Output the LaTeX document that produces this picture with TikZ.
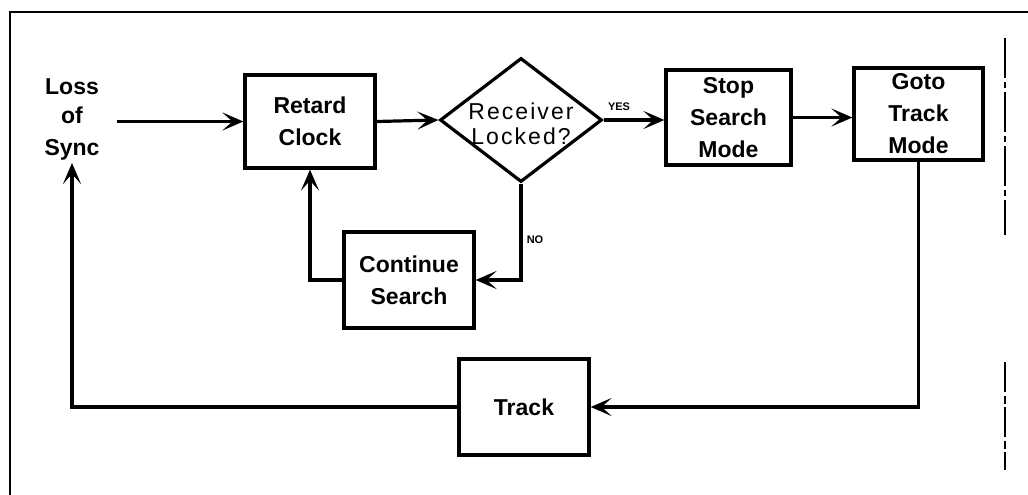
\documentclass[tikz,border=0pt]{standalone}
\usepackage{fontspec}
\setmainfont{Liberation Sans}
\usetikzlibrary{arrows.meta,shapes.geometric}

\tikzset{
  every node/.style={font=\bfseries\fontsize{23}{32}\selectfont, align=center},
  stepbox/.style={draw, line width=3.2pt, inner sep=0pt, minimum width=#1},
  stepbox/.default=130pt,
  decision/.style={draw, diamond, line width=3.2pt, inner sep=0pt,
                   minimum width=162pt, minimum height=124pt},
  flow/.style={line width=3.2pt, -{Stealth[length=21pt,width=18pt,inset=10pt]}},
  tag/.style={font=\bfseries\fontsize{11}{12}\selectfont, inner sep=0pt},
}

\begin{document}
\begin{tikzpicture}[x=1pt,y=-1pt]
  \useasboundingbox (0,0) rectangle (1028,495);

  % outer frame and margin rule
  \draw[line width=2.8pt] (1028,12) -- (10,12) -- (10,495);
  \draw[line width=1.8pt, dash pattern=on 40pt off 4pt on 6pt off 4pt]
    (1005,38) -- (1005,235);
  \draw[line width=1.8pt, dash pattern=on 30pt off 4pt on 8pt off 3pt]
    (1005,362) -- (1005,470);

  % blocks
  \node[inner sep=3pt] (loss) at (72,119) {Loss\\[-3pt]of\\Sync};
  \node[stepbox, minimum height=93pt] (retard) at (310,121.5) {Retard\\Clock};
  \node[decision] (lock) at (521,120) {};
  \node[font=\fontsize{23}{25}\selectfont\addfontfeature{LetterSpace=9}]
    (locktext) at (521,124) {Receiver\\Locked?};
  \node[stepbox=125pt, minimum height=95pt] (stop) at (728.5,117.5)
    {Stop\\Search\\Mode};
  \node[stepbox=129pt, minimum height=92pt] (goto) at (918.5,114)
    {Goto\\Track\\Mode};
  \node[stepbox, minimum height=96pt] (cont) at (409,280) {Continue\\Search};
  \node[stepbox, minimum height=96pt] (track) at (524,407) {Track};

  % connectors
  \draw[flow] ([xshift=14pt]loss.east |- retard.west) -- (retard.west);
  \draw[flow] (retard.east) -- (lock.west);
  \draw[flow] (lock.east) -- (stop.west |- lock.east);
  \draw[flow] (stop.east) -- (goto.west |- stop.east);
  \draw[flow] (goto.south) |- (track.east);
  \draw[flow] (track.west) -| (loss.south);
  \draw[flow] (lock.south) |- (cont.east);
  \draw[flow] (cont.west) -| (retard.south);

  % branch labels
  \node[tag] (yes) at (619,107) {YES};
  \node[tag] (no) at (535,240) {NO};
\end{tikzpicture}
\end{document}
